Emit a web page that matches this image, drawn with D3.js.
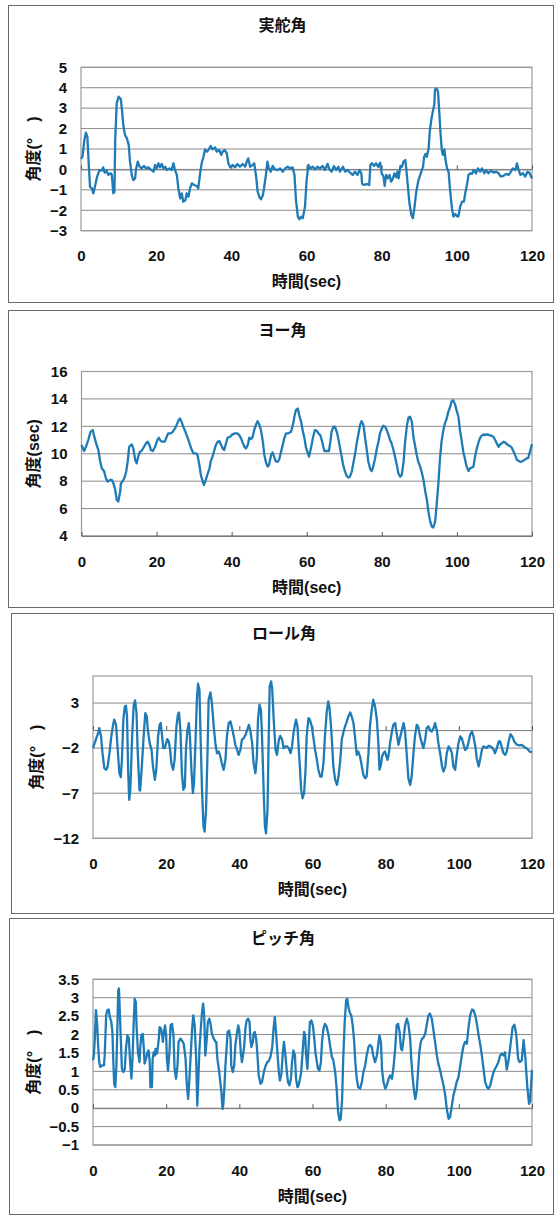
<!DOCTYPE html>
<html><head><meta charset="utf-8">
<script src="https://cdn.jsdelivr.net/npm/d3@7/dist/d3.min.js"></script>
<style>body{margin:0;background:#fff}</style>
</head><body><svg id="c" width="554" height="1216"></svg>
<script>
const xTicks=[0,20,40,60,80,100,120];
const titles=["実舵角","ヨー角","ロール角","ピッチ角"];
const yTitles=["角度(°　)","角度(sec)","角度(°　)","角度(°　)"];
const xTitle="時間(sec)";
const rudderTicks=[5,4,3,2,1,0,-1,-2,-3];
const yawTicks=[16,14,12,10,8,6,4];
const rollTicks=[3,-2,-7,-12];
const pitchTicks=[3.5,3,2.5,2,1.5,1,0.5,0,-0.5,-1];

const rudder=[[0,0.51],[0.4,0.63],[0.9,1.44],[1.3,1.8],[1.7,1.6],[2.0,0.46],[2.4,-0.85],[2.9,-0.93],[3.3,-1.17],[3.7,-0.85],[4.3,-0.35],[4.9,-0.03],[5.5,-0.06],[5.9,0.1],[6.3,-0.16],[6.8,-0.06],[7.3,-0.27],[7.9,-0.19],[8.2,-0.27],[8.6,-1.17],[8.9,-1.1],[9.1,1.44],[9.5,3.24],[10.0,3.56],[10.6,3.43],[10.9,2.9],[11.3,2.1],[11.7,1.69],[12.2,1.52],[12.7,1.2],[13.0,0.46],[13.5,-0.27],[13.9,-0.52],[14.4,-0.44],[14.6,-0.03],[15.1,0.38],[15.5,0.17],[16.1,0.05],[16.8,0.17],[17.3,0.05],[17.9,0.1],[18.5,0],[19.3,-0.11],[19.7,0.22],[20.1,0.05],[20.6,0.3],[21.0,0.1],[21.5,0.27],[21.9,0.05],[22.4,0.13],[22.8,-0.03],[23.5,0.05],[24.1,-0.03],[24.6,0.3],[25.0,-0.03],[25.5,-0.27],[25.9,-0.93],[26.4,-1.42],[26.8,-1.17],[27.2,-1.58],[27.8,-1.5],[28.1,-1.17],[28.6,-1.33],[29.0,-0.93],[29.5,-0.68],[30.1,-0.76],[30.8,-0.81],[31.2,-0.93],[31.7,-0.19],[32.1,0.3],[32.6,0.63],[33.0,0.98],[33.5,0.87],[33.9,0.95],[34.5,1.15],[35.0,0.98],[35.7,1.08],[36.1,0.87],[36.8,0.95],[37.3,0.71],[37.7,0.87],[38.2,0.95],[38.8,0.79],[39.2,0.3],[39.7,0.1],[40.4,0.22],[41.0,0.1],[41.6,0.27],[42.3,0.13],[43.0,0.27],[43.7,0.13],[44.1,0.38],[44.5,0.54],[45.0,0.13],[45.7,0.22],[46.1,0.3],[46.6,-0.35],[47.0,-1.09],[47.5,-1.37],[47.9,-1.46],[48.4,-1.25],[48.7,-0.93],[49.2,-0.27],[49.6,0.38],[50.0,0.05],[50.5,-0.11],[51.0,0.17],[51.6,0],[52.3,-0.03],[53.0,0.05],[53.7,-0.11],[54.3,0.05],[55.0,0.13],[55.6,0.05],[56.3,0.1],[56.8,-0.27],[57.2,-1.5],[57.7,-2.31],[58.1,-2.44],[58.6,-2.31],[59.0,-2.39],[59.6,-1.82],[60.0,-0.6],[60.5,0.22],[61.0,0.05],[61.7,0.13],[62.3,0],[62.9,0.13],[63.6,0.05],[64.3,0.17],[64.9,-0.03],[65.6,0.27],[66.1,0],[66.7,-0.11],[67.3,0.17],[67.9,-0.03],[68.5,0.13],[68.9,-0.11],[69.7,0.13],[70.3,-0.11],[70.9,-0.03],[71.6,-0.16],[72.3,-0.27],[72.9,-0.11],[73.6,-0.27],[74.1,-0.03],[74.6,-0.19],[74.8,-0.71],[75.4,-0.76],[76.1,-0.71],[76.7,-0.76],[77.0,0.22],[77.4,0.3],[78.0,0.17],[78.5,0.3],[79.1,0.13],[79.6,0.33],[80.0,-0.19],[80.5,-0.35],[80.8,-0.81],[81.2,-0.27],[81.6,-0.44],[82.1,-0.27],[82.5,-0.6],[83.0,-0.44],[83.4,-0.19],[83.9,-0.39],[84.2,-0.11],[84.5,-0.44],[85.0,0.17],[85.4,0.13],[85.8,0.38],[86.3,0.46],[86.5,0.13],[86.9,-0.68],[87.4,-1.66],[87.9,-2.23],[88.3,-2.39],[88.7,-1.91],[89.2,-1.09],[89.8,-0.52],[90.4,-0.19],[91.0,0.13],[91.3,0.62],[91.7,0.76],[92.0,0.62],[92.5,1.03],[92.8,1.85],[93.2,2.42],[93.6,2.83],[94.0,3.16],[94.2,3.92],[94.6,3.97],[95.0,3.81],[95.3,2.91],[95.6,1.93],[96.0,0.95],[96.3,0.71],[96.7,0.98],[97.0,0.46],[97.4,0.05],[97.8,-0.11],[98.2,-1.0],[98.7,-1.91],[99.1,-2.31],[99.6,-2.18],[100.0,-2.28],[100.4,-2.31],[100.9,-1.82],[101.4,-1.58],[101.9,-1.58],[102.3,-1.09],[102.7,-0.76],[103.1,-0.27],[103.6,-0.19],[104.0,-0.22],[104.5,-0.03],[105.1,-0.19],[105.6,0.05],[106.2,-0.11],[106.7,0.05],[107.3,-0.19],[107.8,-0.03],[108.4,-0.19],[109.1,-0.06],[109.8,-0.16],[110.5,-0.11],[111.1,-0.19],[111.7,-0.35],[112.4,-0.32],[113.1,-0.22],[113.8,-0.27],[114.4,-0.11],[114.9,0.05],[115.6,-0.03],[116.0,0.3],[116.4,0],[116.9,-0.27],[117.6,-0.19],[118.2,-0.35],[118.8,-0.11],[119.4,-0.19],[120,-0.44]];

const yaw=[[0,10.64],[0.7,10.2],[1.2,10.51],[1.8,11.0],[2.4,11.6],[3.0,11.73],[3.3,11.36],[3.9,10.76],[4.5,10.27],[4.9,9.54],[5.4,8.94],[6.0,8.74],[6.5,8.21],[7.0,7.97],[7.6,8.09],[8.1,8.09],[8.5,7.84],[8.9,7.48],[9.4,6.63],[9.8,6.51],[10.3,7.24],[10.5,7.84],[11.0,8.01],[11.4,8.21],[11.9,8.69],[12.3,9.42],[12.7,10.51],[13.4,10.68],[13.8,10.39],[14.3,9.54],[14.7,9.3],[15.1,9.79],[15.6,10.15],[16.0,10.2],[16.5,10.44],[17.2,10.76],[17.6,10.88],[18.1,10.64],[18.5,10.27],[19.0,10.2],[19.6,10.51],[20.2,11.0],[20.6,11.17],[21.1,10.93],[21.6,10.88],[22.2,10.88],[22.7,11.24],[23.1,11.49],[23.8,11.49],[24.3,11.6],[24.9,11.85],[25.4,12.14],[25.9,12.46],[26.2,12.58],[26.7,12.29],[27.1,11.97],[27.6,11.66],[28.0,11.36],[28.5,11.0],[28.9,10.64],[29.4,10.27],[29.8,10.03],[30.5,10.03],[30.9,9.91],[31.4,9.18],[31.8,8.45],[32.3,7.97],[32.6,7.72],[33.1,8.09],[33.5,8.45],[34.1,8.94],[34.4,9.42],[34.9,9.79],[35.4,10.27],[35.8,10.64],[36.3,10.88],[36.7,10.93],[37.2,10.64],[37.6,10.39],[38.0,10.27],[38.5,10.76],[38.9,11.17],[39.6,11.24],[40.2,11.41],[40.9,11.49],[41.5,11.49],[42.0,11.36],[42.5,11.12],[42.9,10.83],[43.4,10.51],[43.8,10.39],[44.3,10.64],[44.7,11.17],[45.2,11.07],[45.6,11.24],[46.0,11.73],[46.5,12.14],[46.9,12.38],[47.4,12.09],[47.8,11.73],[48.3,10.88],[48.7,9.91],[49.2,9.3],[49.6,9.06],[50.0,9.23],[50.5,9.91],[50.9,10.1],[51.4,9.71],[51.8,9.42],[52.3,9.42],[52.7,9.62],[53.2,10.2],[53.6,10.64],[54.0,11.12],[54.5,11.49],[55.1,11.49],[55.8,11.6],[56.3,12.09],[56.7,12.7],[57.1,13.18],[57.6,13.3],[58.0,12.82],[58.5,12.33],[58.9,11.73],[59.4,11.12],[59.8,10.44],[60.3,10.03],[60.6,9.79],[61.2,10.51],[61.7,11.24],[62.2,11.73],[62.7,11.66],[63.1,11.49],[63.6,11.36],[64.0,11.0],[64.4,10.51],[64.7,10.2],[65.3,10.2],[65.9,10.2],[66.3,10.88],[66.6,11.6],[67.1,11.97],[67.5,11.97],[68.0,11.6],[68.4,11.12],[68.8,10.51],[69.3,9.79],[69.7,9.18],[70.2,8.69],[70.6,8.4],[71.1,8.26],[71.5,8.33],[72.0,8.69],[72.4,9.3],[72.9,10.03],[73.3,10.76],[73.8,11.49],[74.2,12.09],[74.6,12.38],[75.1,12.09],[75.5,11.24],[76.0,10.27],[76.4,9.42],[76.9,8.89],[77.3,8.74],[77.7,9.06],[78.2,9.67],[78.6,10.27],[79.1,10.88],[79.5,11.49],[80.0,11.85],[80.4,12.04],[80.9,11.97],[81.3,11.73],[81.8,11.36],[82.2,11.0],[82.6,10.76],[83.1,10.27],[83.5,9.79],[84.0,9.18],[84.4,8.57],[84.9,8.33],[85.3,8.45],[85.8,9.42],[86.2,10.88],[86.7,12.09],[87.1,12.63],[87.5,12.7],[88.0,12.33],[88.4,11.24],[88.9,10.51],[89.3,9.91],[89.7,9.42],[90.2,9.06],[90.6,8.69],[91.1,8.09],[91.5,7.36],[92.0,6.63],[92.4,5.78],[92.9,5.05],[93.3,4.69],[93.7,4.62],[94.2,5.05],[94.6,6.27],[95.1,7.97],[95.5,9.67],[95.9,10.88],[96.4,11.73],[96.8,12.21],[97.3,12.58],[97.7,13.06],[98.2,13.43],[98.6,13.84],[99.0,13.91],[99.5,13.6],[99.9,13.18],[100.4,12.7],[100.8,11.73],[101.3,10.88],[101.7,10.15],[102.2,9.54],[102.6,9.06],[103.1,8.74],[103.5,8.94],[104.0,8.99],[104.4,9.06],[104.9,9.91],[105.3,10.39],[105.8,10.88],[106.2,11.17],[106.6,11.32],[107.1,11.41],[107.5,11.36],[108.0,11.41],[108.6,11.36],[109.1,11.32],[109.7,11.24],[110.2,11.0],[110.6,10.76],[111.1,10.51],[111.5,10.68],[112.0,10.76],[112.4,10.88],[112.8,10.83],[113.5,10.65],[114.5,10.5],[115.2,10.1],[116.0,9.55],[117.0,9.4],[118.0,9.55],[118.5,9.65],[119.0,9.7],[119.5,10.2],[120,10.7]];

const roll=[[0,-2.0],[0.6,-1.26],[1.4,-0.33],[1.7,0.22],[2.2,-0.7],[2.6,-2.56],[3.1,-4.22],[3.6,-4.4],[4.0,-4.04],[4.5,-2.56],[5.0,-0.7],[5.5,0.59],[5.8,1.15],[6.3,0.59],[6.7,-1.81],[7.2,-4.78],[7.6,-5.22],[7.9,-3.3],[8.3,1.15],[8.7,2.63],[9.0,2.7],[9.3,1.52],[9.6,-4.4],[9.9,-7.74],[10.2,-6.63],[10.7,-0.7],[11.1,2.63],[11.5,3.3],[11.9,1.89],[12.2,-2.19],[12.7,-6.63],[12.9,-6.7],[13.4,-3.67],[13.9,-0.33],[14.3,1.89],[14.7,1.52],[15.0,-0.04],[15.5,-1.44],[16.0,-2.19],[16.4,-4.04],[16.9,-5.52],[17.3,-4.4],[17.8,-0.7],[18.2,0.59],[18.5,0.78],[18.9,-0.7],[19.2,-2.0],[19.6,-2.0],[20.0,-1.44],[20.3,-1.0],[20.7,-1.26],[21.1,-2.19],[21.4,-3.67],[21.9,-4.4],[22.3,-3.3],[22.8,0.41],[23.2,1.7],[23.5,1.96],[23.9,-0.04],[24.3,-4.78],[24.7,-6.63],[25.1,-6.26],[25.4,-2.19],[25.8,-0.04],[26.2,0.78],[26.5,-0.7],[26.9,-4.4],[27.3,-7.0],[27.6,-5.89],[28.0,-1.44],[28.4,3.37],[28.7,5.15],[29.1,4.48],[29.4,-0.7],[29.8,-6.63],[30.2,-10.7],[30.5,-11.26],[30.9,-8.85],[31.3,-2.56],[31.6,3.37],[32.1,4.19],[32.5,3.0],[33.0,0.41],[33.5,-1.63],[33.9,-2.56],[34.4,-2.37],[34.8,-2.93],[35.3,-3.85],[35.7,-4.4],[36.2,-3.3],[36.6,-0.7],[37.1,0.78],[37.6,0.96],[38.0,0.22],[38.5,-0.7],[38.9,-1.63],[39.4,-2.19],[39.8,-2.74],[40.3,-2.19],[40.7,-1.07],[41.2,-0.89],[41.7,-0.52],[42.1,-0.04],[42.6,0.59],[43.0,-0.04],[43.5,-1.44],[43.9,-3.67],[44.4,-4.78],[44.8,-2.93],[45.1,1.15],[45.5,2.81],[45.9,2.26],[46.2,-0.7],[46.7,-7.37],[47.0,-10.7],[47.3,-11.44],[47.7,-8.85],[48.0,-1.44],[48.3,4.85],[48.7,5.41],[49.0,4.48],[49.4,1.15],[49.9,-2.19],[50.3,-2.74],[50.8,-1.07],[51.2,-0.63],[51.7,-1.07],[52.1,-2.0],[52.6,-1.81],[53.1,-1.81],[53.5,-2.0],[54.0,-2.56],[54.4,-1.81],[54.8,-0.33],[55.2,0.59],[55.5,1.15],[55.9,0.41],[56.2,-1.81],[56.6,-4.4],[56.9,-6.63],[57.3,-7.56],[57.7,-7.0],[58.1,-4.4],[58.4,-0.7],[58.9,1.33],[59.3,1.15],[59.8,0.41],[60.2,-0.7],[60.7,-2.19],[61.2,-3.3],[61.6,-4.4],[62.1,-5.15],[62.5,-5.15],[63.0,-3.67],[63.4,-0.7],[63.9,2.07],[64.3,3.19],[64.6,2.63],[65.0,0.78],[65.4,-1.81],[65.7,-4.04],[66.2,-5.52],[66.7,-6.07],[67.1,-5.15],[67.6,-3.3],[68.0,-1.07],[68.5,-0.15],[68.9,0.41],[69.4,0.96],[69.8,1.52],[70.3,1.96],[70.7,1.52],[71.2,0.78],[71.6,-0.7],[72.1,-2.74],[72.5,-2.37],[73.0,-2.93],[73.5,-4.04],[73.9,-4.96],[74.4,-5.33],[74.8,-5.15],[75.3,-2.56],[75.7,0.41],[76.2,2.26],[76.6,3.37],[77.1,2.63],[77.6,1.15],[78.0,-1.44],[78.3,-4.4],[78.7,-3.85],[79.0,-2.93],[79.4,-2.56],[79.8,-2.37],[80.1,-2.74],[80.5,-3.3],[80.9,-2.56],[81.2,-1.44],[81.7,-0.15],[82.1,0.59],[82.6,0.78],[83.0,-0.33],[83.5,-1.63],[83.9,-0.89],[84.4,-0.04],[84.9,0.78],[85.3,-0.15],[85.8,-2.93],[86.2,-5.33],[86.7,-6.07],[87.1,-5.15],[87.6,-2.56],[88.0,-0.7],[88.5,0.59],[88.9,0.41],[89.4,-0.7],[89.9,-1.44],[90.3,-2.0],[90.8,-1.07],[91.2,0.22],[91.7,0.41],[92.2,-0.04],[92.6,-0.15],[93.1,0.22],[93.5,0.78],[94.0,-0.04],[94.4,-1.44],[94.9,-2.56],[95.4,-4.04],[95.8,-4.59],[96.3,-4.04],[96.7,-2.56],[97.2,-1.81],[97.6,-2.0],[98.1,-2.56],[98.5,-4.04],[99.0,-4.4],[99.4,-2.93],[99.9,-1.44],[100.4,-0.7],[100.8,-0.89],[101.3,-1.63],[101.7,-2.19],[102.2,-2.0],[102.6,-1.44],[103.1,-0.52],[103.6,-0.15],[104.0,-0.7],[104.5,-1.81],[104.9,-3.11],[105.4,-4.04],[105.8,-3.3],[106.3,-2.19],[106.7,-1.81],[107.2,-1.89],[107.6,-2.0],[108.1,-1.74],[108.6,-1.81],[109.0,-1.89],[109.5,-2.19],[109.9,-2.56],[110.4,-2.0],[110.9,-1.26],[111.3,-1.26],[111.8,-2.0],[112.2,-2.56],[112.7,-2.74],[113.1,-2.37],[113.6,-1.3],[114.1,-0.45],[114.6,-0.7],[115.2,-1.3],[115.8,-1.6],[116.5,-1.7],[117.2,-1.65],[118.0,-1.9],[118.8,-2.1],[119.4,-2.4],[120,-2.45]];

const pitch=[[0,1.3],[0.2,1.39],[0.5,1.89],[0.8,2.66],[1.1,2.34],[1.4,1.7],[1.7,1.25],[2.0,1.12],[2.5,1.16],[3.0,1.16],[3.2,1.43],[3.6,2.52],[3.9,2.66],[4.3,2.68],[4.6,2.48],[5.0,2.34],[5.3,2.07],[5.6,1.16],[5.8,0.66],[6.1,0.57],[6.4,1.16],[6.7,2.34],[6.9,3.2],[7.1,3.25],[7.4,2.43],[7.7,1.61],[7.9,1.07],[8.3,0.98],[8.7,1.07],[9.0,1.61],[9.4,1.98],[9.8,1.89],[10.1,1.34],[10.5,0.8],[10.8,1.34],[11.1,2.25],[11.4,2.97],[11.7,2.88],[11.9,2.25],[12.3,1.52],[12.7,1.25],[12.9,1.61],[13.2,1.98],[13.6,2.02],[13.9,1.61],[14.1,1.21],[14.5,1.34],[14.9,1.52],[15.2,1.57],[15.5,1.25],[15.7,0.57],[16.1,0.57],[16.3,1.34],[16.6,1.52],[16.9,1.43],[17.1,1.61],[17.5,1.48],[18.0,1.89],[18.2,2.2],[18.6,2.16],[18.9,1.98],[19.1,1.8],[19.4,2.07],[19.7,2.25],[20.0,1.98],[20.2,1.34],[20.5,1.02],[20.9,1.52],[21.2,2.25],[21.6,2.29],[22.0,1.98],[22.3,1.07],[22.7,0.8],[23.1,1.16],[23.4,1.8],[23.9,1.89],[24.3,1.84],[24.8,1.75],[25.3,1.34],[25.6,0.71],[26.0,0.25],[26.3,0.71],[26.7,1.43],[27.1,2.16],[27.4,2.52],[27.8,2.25],[28.2,1.34],[28.5,0.07],[28.7,0.53],[29.1,1.61],[29.4,2.07],[29.8,2.61],[30.1,2.84],[30.4,2.52],[30.7,1.43],[31.1,1.89],[31.4,2.34],[31.8,2.43],[32.2,2.25],[32.5,2.02],[33.0,1.89],[33.5,1.8],[33.7,1.8],[34.0,1.34],[34.4,1.07],[34.7,0.8],[35.1,0.44],[35.4,-0.02],[35.6,0.07],[35.9,0.53],[36.2,1.16],[36.5,1.61],[36.8,2.07],[37.2,2.11],[37.6,1.89],[37.8,1.16],[38.2,0.98],[38.6,1.16],[38.9,1.7],[39.4,2.07],[39.7,2.25],[40.0,2.11],[40.4,1.52],[40.7,1.25],[41.0,1.43],[41.3,1.66],[41.7,2.2],[42.0,2.38],[42.4,2.43],[42.8,2.34],[43.0,1.89],[43.3,1.66],[43.7,1.8],[43.9,2.02],[44.2,2.07],[44.6,1.89],[44.9,1.52],[45.3,0.89],[45.8,0.66],[46.2,0.71],[46.7,0.98],[47.1,1.12],[47.6,1.25],[48.0,1.27],[48.5,1.39],[49.0,1.66],[49.3,2.11],[49.7,2.48],[50.0,2.11],[50.4,1.52],[50.8,0.98],[51.1,0.75],[51.5,0.93],[51.9,1.52],[52.2,1.8],[52.6,1.43],[53.0,0.98],[53.3,0.71],[53.7,0.62],[54.1,0.8],[54.4,1.25],[54.8,1.57],[55.2,1.43],[55.5,0.8],[55.9,0.57],[56.2,0.62],[56.6,0.8],[56.9,0.98],[57.3,1.52],[57.7,2.07],[58.0,1.98],[58.2,1.52],[58.6,1.07],[59.0,1.8],[59.3,2.34],[59.7,2.38],[60.1,2.25],[60.4,1.98],[60.8,1.52],[61.2,1.25],[61.5,1.07],[61.9,1.02],[62.3,1.25],[62.6,1.8],[63.0,2.16],[63.4,2.29],[63.9,2.2],[64.4,1.98],[64.8,1.7],[65.3,1.39],[65.7,1.3],[66.2,0.98],[66.6,0.53],[67.0,-0.11],[67.4,-0.33],[67.7,-0.29],[68.1,0.25],[68.4,1.34],[68.8,2.34],[69.2,2.93],[69.5,2.97],[69.9,2.7],[70.3,2.57],[70.6,2.52],[71.0,2.25],[71.4,1.8],[71.7,1.25],[72.1,0.8],[72.5,0.57],[73.0,0.53],[73.5,0.71],[73.9,0.98],[74.4,1.16],[74.8,1.43],[75.3,1.66],[75.7,1.72],[76.2,1.66],[76.6,1.43],[77.1,1.25],[77.6,1.43],[78.0,1.75],[78.3,1.98],[78.7,1.8],[79.0,1.07],[79.4,0.71],[79.9,0.53],[80.3,0.62],[80.8,0.8],[81.2,0.89],[81.7,0.8],[82.1,1.07],[82.6,1.61],[83.0,2.25],[83.4,2.29],[83.8,2.07],[84.2,1.61],[84.5,1.57],[84.9,1.89],[85.3,2.25],[85.8,2.43],[86.2,2.29],[86.7,1.89],[87.0,1.34],[87.4,0.8],[87.8,0.44],[88.1,0.25],[88.5,0.48],[88.9,1.07],[89.2,1.52],[89.6,1.8],[90.0,1.89],[90.4,1.93],[90.8,2.02],[91.2,2.25],[91.7,2.52],[92.1,2.57],[92.6,2.43],[93.0,2.16],[93.5,1.8],[94.0,1.43],[94.4,1.21],[94.9,1.02],[95.3,0.84],[95.8,0.62],[96.3,0.34],[96.7,-0.02],[97.2,-0.29],[97.6,-0.24],[98.1,0.07],[98.5,0.34],[99.0,0.53],[99.4,0.71],[99.9,0.84],[100.4,1.16],[100.8,1.43],[101.3,1.7],[101.7,1.8],[102.2,1.75],[102.6,2.16],[103.1,2.52],[103.6,2.68],[104.0,2.66],[104.5,2.52],[105.0,2.25],[105.4,1.98],[105.9,1.7],[106.3,1.43],[106.8,1.02],[107.2,0.71],[107.7,0.57],[108.1,0.53],[108.6,0.62],[109.0,0.8],[109.5,0.98],[109.9,1.07],[110.4,1.16],[110.8,1.25],[111.3,1.43],[111.7,1.48],[112.2,1.43],[112.6,1.52],[113.1,1.05],[113.6,1.3],[114.1,1.7],[114.7,2.2],[115.2,2.27],[115.7,2.0],[116.2,1.35],[116.6,1.25],[117.2,1.3],[117.7,1.85],[118.2,1.35],[118.7,0.6],[119.2,0.12],[119.5,0.2],[120,1.04]];

const seriesList=[rudder,yaw,roll,pitch];
const tickList=[rudderTicks,yawTicks,rollTicks,pitchTicks];
const domains=[[-3,5],[4,16],[-12,6],[-1,3.5]];
const axisAt=[0,4,0,0];

// layout only (box: panel border, plot: plot area)
const layout=[
 {box:[8,5,553,302], plot:[81,67.3,532,230.7], titleY:25, yTitleX:33},
 {box:[8,310,553,607], plot:[81.5,371.5,532,536], titleY:330, yTitleX:33},
 {box:[11,613,553,913], plot:[93,676,532,838.3], titleY:633, yTitleX:36},
 {box:[9,918,553,1214], plot:[93,979.3,532,1145], titleY:938, yTitleX:33}
];

const LINE="#1f7bb6";
const FONT="'Liberation Sans', Arial, 'Noto Sans CJK JP', sans-serif";
const fmt=d=>d<0?"\u2212"+Math.abs(d):String(d);
const svg=d3.select("#c");

layout.forEach((L,i)=>{
  const [bl,bt,br,bb]=L.box;
  const [pl,pt,pr,pb]=L.plot;
  const g=svg.append("g");
  g.append("rect").attr("x",bl+0.5).attr("y",bt+0.5).attr("width",br-bl).attr("height",bb-bt)
    .attr("fill","#fff").attr("stroke","#6a6a6a").attr("stroke-width",1);
  const x=d3.scaleLinear().domain([0,120]).range([pl,pr]);
  const y=d3.scaleLinear().domain(domains[i]).range([pb,pt]);
  g.append("g").selectAll("line").data(tickList[i]).join("line")
    .attr("x1",pl).attr("x2",pr).attr("y1",d=>y(d)).attr("y2",d=>y(d))
    .attr("stroke","#8a8a8a").attr("stroke-width",1);
  g.append("rect").attr("x",pl).attr("y",pt).attr("width",pr-pl).attr("height",pb-pt)
    .attr("fill","none").attr("stroke","#9a9a9a").attr("stroke-width",1.2);
  const ax=g.append("g").attr("transform",`translate(0,${y(axisAt[i])})`)
    .call(d3.axisTop(x).tickValues(xTicks).tickSize(4).tickSizeOuter(0).tickFormat(""));
  ax.select(".domain").attr("stroke","#7a7a7a");
  ax.selectAll(".tick line").attr("stroke","#555");
  const xl=g.append("g").attr("transform",`translate(0,${pb})`)
    .call(d3.axisBottom(x).tickValues(xTicks).tickSize(0).tickPadding(20).tickFormat(d=>String(d)));
  xl.select(".domain").remove();
  xl.selectAll("text").attr("font-family",FONT).attr("font-size",15).attr("font-weight","bold").attr("fill","#111");
  const yl=g.append("g").attr("transform",`translate(${pl},0)`)
    .call(d3.axisLeft(y).tickValues(tickList[i]).tickSize(0).tickPadding(14).tickFormat(fmt));
  yl.select(".domain").remove();
  yl.selectAll("text").attr("font-family",FONT).attr("font-size",15).attr("font-weight","bold").attr("fill","#111");
  g.append("path").datum(seriesList[i])
    .attr("d",d3.line().x(d=>x(d[0])).y(d=>y(d[1])))
    .attr("fill","none").attr("stroke",LINE).attr("stroke-width",2.3).attr("stroke-linejoin","round");
  g.append("text").attr("x",(bl+br)/2+2).attr("y",L.titleY).attr("dy","0.35em").attr("text-anchor","middle")
    .attr("font-family",FONT).attr("font-size",16).attr("font-weight","bold").attr("fill","#111").text(titles[i]);
  g.append("text").attr("x",(pl+pr)/2).attr("y",pb+51).attr("dy","0.35em").attr("text-anchor","middle")
    .attr("font-family",FONT).attr("font-size",16).attr("font-weight","bold").attr("fill","#111").text(xTitle);
  g.append("text").attr("transform",`translate(${L.yTitleX},${(pt+pb)/2}) rotate(-90)`).attr("dy","0.35em")
    .attr("text-anchor","middle").attr("font-family",FONT).attr("font-size",16).attr("font-weight","bold")
    .attr("fill","#111").text(yTitles[i]);
});
</script></body></html>
